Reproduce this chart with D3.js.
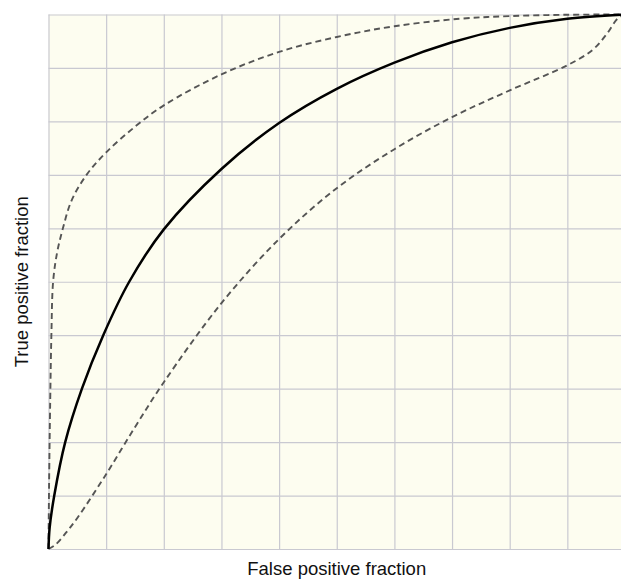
<!DOCTYPE html>
<html>
<head>
<meta charset="utf-8">
<script src="https://cdn.jsdelivr.net/npm/d3@7"></script>
<style>
  body { margin: 0; background: #fff; }
  svg { display: block; }
</style>
</head>
<body>
<div id="chart"></div>
<script>
"use strict";
let width = 621;
let height = 579;

// ROC curve (solid) and its confidence bounds (dashed)
let roc_x = [0, 0.002, 0.01, 0.029, 0.058, 0.095, 0.14, 0.2, 0.3, 0.4, 0.5, 0.6, 0.7, 0.8, 0.9, 1];
let roc_y = [0, 0.04, 0.1, 0.2, 0.3, 0.4, 0.5, 0.598, 0.711, 0.797, 0.861, 0.91, 0.948, 0.975, 0.992, 1];

let upper_x = [0, 0.001, 0.003, 0.005, 0.008, 0.015, 0.025, 0.04, 0.066, 0.1, 0.15, 0.2, 0.3, 0.4, 0.5, 0.6, 0.713, 0.8, 0.9, 1];
let upper_y = [0, 0.12, 0.28, 0.4, 0.5, 0.555, 0.6, 0.652, 0.7, 0.742, 0.79, 0.83, 0.888, 0.93, 0.958, 0.978, 0.992, 0.997, 0.9995, 1];

let lower_x = [0, 0.012, 0.03, 0.05, 0.1, 0.15, 0.2, 0.3, 0.4, 0.5, 0.6, 0.7, 0.8, 0.9, 0.944, 0.968, 0.987, 1];
let lower_y = [0, 0.008, 0.03, 0.058, 0.14, 0.228, 0.312, 0.46, 0.58, 0.675, 0.748, 0.808, 0.858, 0.905, 0.934, 0.963, 0.992, 1];

let grid_ticks = d3.range(0, 11).map(function(i) { return i / 10; });

let plot = { left: 48.5, right: 625, top: 14.5, bottom: 549 };

let xScale = d3.scaleLinear().domain([0, 1]).range([plot.left, plot.right]);
let yScale = d3.scaleLinear().domain([0, 1]).range([plot.bottom, plot.top]);

let svg = d3.select("#chart")
            .append("svg")
            .attr("width", width)
            .attr("height", height);

// Background
svg.append("rect")
   .attr("x", plot.left)
   .attr("y", plot.top)
   .attr("width", plot.right - plot.left)
   .attr("height", plot.bottom - plot.top)
   .attr("fill", "#fdfdf0");

// Grid lines
let xGrid = d3.axisBottom(xScale).tickValues(grid_ticks)
            .tickSize(-(plot.bottom - plot.top)).tickFormat("");
let yGrid = d3.axisLeft(yScale).tickValues(grid_ticks)
            .tickSize(-(plot.right - plot.left)).tickFormat("");

svg.append("g")
   .attr("class", "grid")
   .attr("transform", "translate(0," + plot.bottom + ")")
   .call(xGrid);
svg.append("g")
   .attr("class", "grid")
   .attr("transform", "translate(" + plot.left + ",0)")
   .call(yGrid);

svg.selectAll(".grid .domain").remove();
svg.selectAll(".grid line")
   .attr("stroke", "#c9c9d1")
   .attr("stroke-width", 1.2);

let line = d3.line()
            .x(function(d) { return xScale(d[0]); })
            .y(function(d) { return yScale(d[1]); })
            .curve(d3.curveCatmullRom.alpha(0.5));

function pairs(xs, ys) {
    return xs.map(function(x, i) { return [x, ys[i]]; });
}

// Dashed bounds
svg.append("path")
   .datum(pairs(upper_x, upper_y))
   .attr("d", line)
   .attr("fill", "none")
   .attr("stroke", "#555")
   .attr("stroke-width", 1.9)
   .attr("stroke-dasharray", "6,4");

svg.append("path")
   .datum(pairs(lower_x, lower_y))
   .attr("d", line)
   .attr("fill", "none")
   .attr("stroke", "#555")
   .attr("stroke-width", 1.9)
   .attr("stroke-dasharray", "6,4");

// ROC curve
svg.append("path")
   .datum(pairs(roc_x, roc_y))
   .attr("d", line)
   .attr("fill", "none")
   .attr("stroke", "#000")
   .attr("stroke-width", 2.5);

// Axis titles
svg.append("text")
   .attr("x", (plot.left + plot.right) / 2)
   .attr("y", 575)
   .attr("text-anchor", "middle")
   .style("font-family", "'Liberation Sans', Arial, Helvetica, sans-serif")
   .style("font-size", "18.5px")
   .attr("fill", "#111")
   .text("False positive fraction");

svg.append("text")
   .attr("transform", "translate(28," + ((plot.top + plot.bottom) / 2) + ") rotate(-90)")
   .attr("text-anchor", "middle")
   .style("font-family", "'Liberation Sans', Arial, Helvetica, sans-serif")
   .style("font-size", "18.5px")
   .attr("fill", "#111")
   .text("True positive fraction");
</script>
</body>
</html>
